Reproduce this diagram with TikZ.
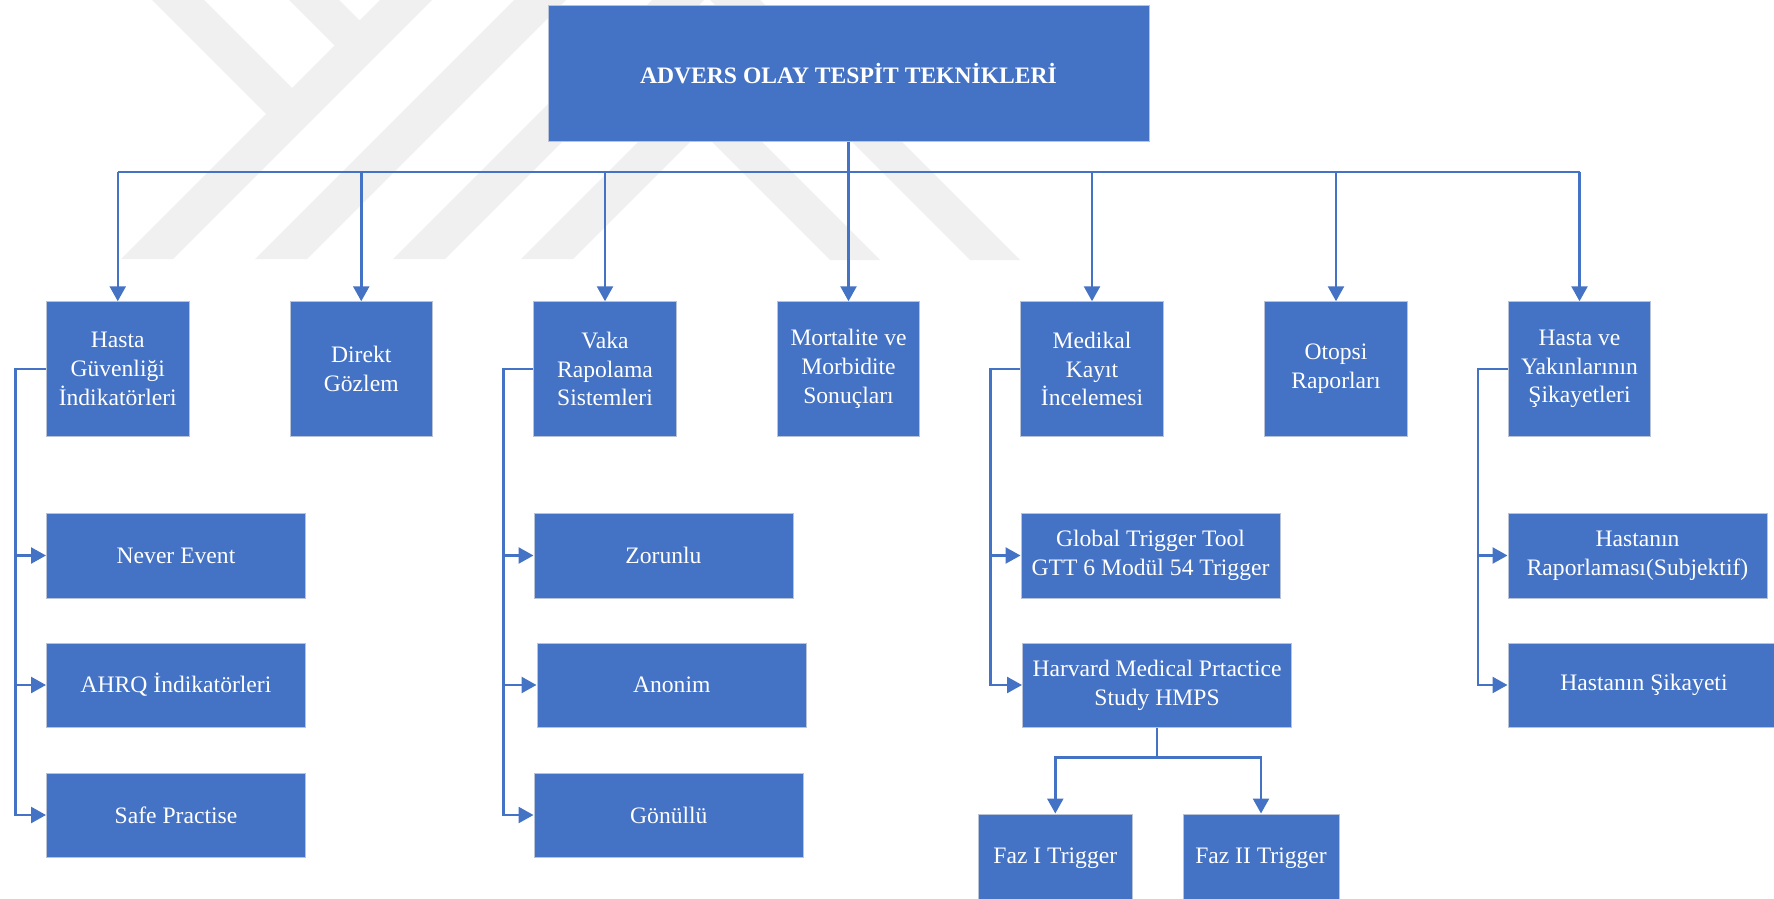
\documentclass[tikz,border=0pt]{standalone}
\usepackage{fontspec}
\setmainfont{Liberation Serif}
\usetikzlibrary{arrows.meta}
\definecolor{boxblue}{RGB}{68,114,196}
\definecolor{boxedge}{RGB}{185,195,215}
\definecolor{wm}{RGB}{240,240,240}
\tikzset{
 box/.style={rectangle, fill=boxblue, draw=boxedge, line width=1pt, text=white, align=center, inner sep=0pt, font=\fontsize{23.6}{28.8}\selectfont},
 titlebox/.style={box, font=\bfseries\fontsize{23.6}{28.8}\selectfont},
 conn/.style={draw=boxblue, line width=2.5pt},
 arr/.style={conn, -{Triangle[length=15pt,width=16pt]}},
}
\begin{document}
\begin{tikzpicture}[x=1pt,y=-1pt]
\useasboundingbox (0,0) rectangle (1774,899);
\clip (0,0) rectangle (1774,899);
\fill[white] (0,0) rectangle (1774,899);
% watermark
\fill[wm] (121,259) -- (173,259) -- (432,0) -- (380,0) -- cycle;
\fill[wm] (152,0) -- (204,0) -- (318,114) -- (266,114) -- cycle;
\fill[wm] (289,0) -- (339,0) -- (385,46) -- (335,46) -- cycle;
\fill[wm] (255,259) -- (307,259) -- (566,0) -- (514,0) -- cycle;
\fill[wm] (393,259) -- (445,259) -- (704,0) -- (652,0) -- cycle;
\fill[wm] (521,259) -- (700,80) -- (880,260) -- (830,260) -- (701,131) -- (573,259) -- cycle;
\fill[wm] (710,0) -- (760,0) -- (1020,260) -- (970,260) -- cycle;
% top
\node[titlebox, minimum width=601pt, minimum height=135pt] (top) at (848.5,73.5) {ADVERS OLAY TESPİT TEKNİKLERİ};
% second row
\node[box, minimum width=142.5pt, minimum height=134.5pt] (hgi) at (117.75,369) {Hasta\\Güvenliği\\İndikatörleri};
\node[box, minimum width=142.5pt, minimum height=134.5pt] (dg) at (361.25,369) {Direkt\\Gözlem};
\node[box, minimum width=142.5pt, minimum height=134.5pt] (vrs) at (605,369) {Vaka\\Rapolama\\Sistemleri};
\node[box, minimum width=142.5pt, minimum height=134.5pt] (mms) at (848.5,369) {Mortalite ve\\Morbidite\\Sonuçları};
\node[box, minimum width=142.5pt, minimum height=134.5pt] (mki) at (1092,369) {Medikal\\Kayıt\\İncelemesi};
\node[box, minimum width=142.5pt, minimum height=134.5pt] (or) at (1336,369) {Otopsi\\Raporları};
\node[box, minimum width=142.5pt, minimum height=134.5pt] (hyk) at (1579.5,369) {Hasta ve\\Yakınlarının\\Şikayetleri};
% third level
\node[box, minimum width=259pt, minimum height=85pt] (ne) at (176,555.5) {Never Event};
\node[box, minimum width=259pt, minimum height=84pt] (ahrq) at (176,685) {AHRQ İndikatörleri};
\node[box, minimum width=259pt, minimum height=84pt] (sp) at (176,815) {Safe Practise};
\node[box, minimum width=259pt, minimum height=85pt] (zor) at (663.5,555.5) {Zorunlu};
\node[box, minimum width=269.5pt, minimum height=84pt] (ano) at (671.75,685) {Anonim};
\node[box, minimum width=269.7pt, minimum height=84pt] (gon) at (668.85,815) {Gönüllü};
\node[box, minimum width=259pt, minimum height=85pt] (gtt) at (1150.5,555.5) {Global Trigger Tool\\GTT 6 Modül 54 Trigger};
\node[box, minimum width=269pt, minimum height=84pt] (hmps) at (1157,685) {Harvard Medical Prtactice\\Study HMPS};
\node[box, minimum width=154.6pt, minimum height=88pt] (faz1) at (1055.3,858) {Faz I Trigger};
\node[box, minimum width=156pt, minimum height=88pt] (faz2) at (1261,858) {Faz II Trigger};
\node[box, minimum width=259pt, minimum height=85pt] (hr) at (1637.5,555.5) {Hastanın\\Raporlaması(Subjektif)};
\node[box, minimum width=272pt, minimum height=84pt] (hs) at (1644,685) {Hastanın Şikayeti};
% connectors
\coordinate (bus) at (0,172);
\draw[conn] (hgi.north |- bus) -- (hyk.north |- bus);
\draw[arr] (top.south) -- (mms.north);
\foreach \n in {hgi,dg,vrs,mki,or,hyk} \draw[arr] (\n.north |- bus) -- (\n.north);
% side branches
\draw[arr] (hgi.west) -- ++(-30.5,0) coordinate (c1) -- (c1 |- sp.west) -- (sp.west);
\draw[arr] (c1 |- ne.west) -- (ne.west);
\draw[arr] (c1 |- ahrq.west) -- (ahrq.west);
\draw[arr] (vrs.west) -- ++(-30,0) coordinate (c2) -- (c2 |- gon.west) -- (gon.west);
\draw[arr] (c2 |- zor.west) -- (zor.west);
\draw[arr] (c2 |- ano.west) -- (ano.west);
\draw[arr] (mki.west) -- ++(-30,0) coordinate (c3) -- (c3 |- hmps.west) -- (hmps.west);
\draw[arr] (c3 |- gtt.west) -- (gtt.west);
\draw[arr] (hyk.west) -- ++(-30,0) coordinate (c4) -- (c4 |- hs.west) -- (hs.west);
\draw[arr] (c4 |- hr.west) -- (hr.west);
\draw[conn] (hmps.south) -- ++(0,30) coordinate (hb);
\draw[arr] (hb) -| (faz1.north);
\draw[arr] (hb) -| (faz2.north);
\end{tikzpicture}
\end{document}
